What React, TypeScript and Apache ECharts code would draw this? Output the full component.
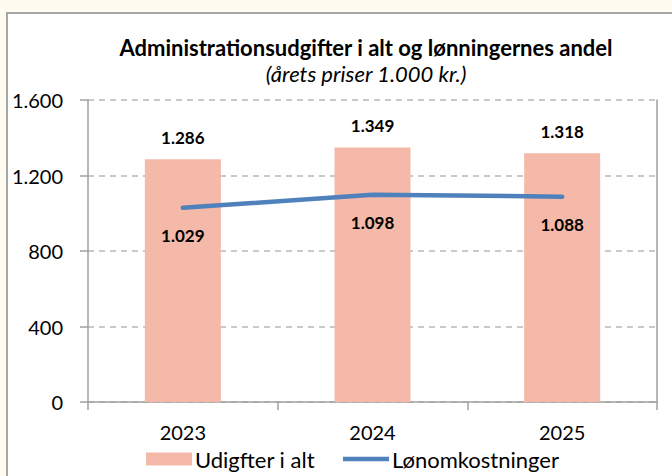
import React, { useEffect, useRef } from "react";
import * as echarts from "echarts";

const categories = ["2023", "2024", "2025"];
const udgifter = [1286, 1349, 1318];
const loen = [1029, 1098, 1088];
const yTicks = [0, 400, 800, 1200, 1600];

const fmt = (v: number) => {
  const s = Math.round(v).toString();
  return s.replace(/\B(?=(\d{3})+(?!\d))/g, ".");
};

const FONT = "Lato, 'Noto Sans', sans-serif";

export default function App() {
  const ref = useRef<HTMLDivElement>(null);
  useEffect(() => {
    if (!ref.current) return;
    const chart = echarts.init(ref.current, null, { renderer: "svg" });
    chart.setOption({
      animation: false,
      backgroundColor: "#ffffff",
      textStyle: { fontFamily: FONT },
      title: [
        {
          text: "Administrationsudgifter i alt og lønningernes andel",
          left: 353,
          top: 17,
          textAlign: "center",
          textStyle: { fontFamily: FONT, fontSize: 22, fontWeight: "bold", color: "#000" },
        },
        {
          text: "(årets priser 1.000 kr.)",
          left: 353,
          top: 43,
          textAlign: "center",
          textStyle: { fontFamily: FONT, fontSize: 22, fontStyle: "italic", fontWeight: "normal", color: "#000" },
        },
      ],
      grid: { left: 80, right: 16, top: 86, bottom: 76, containLabel: false },
      legend: {
        bottom: 3,
        left: 133,
        itemWidth: 46,
        itemHeight: 13,
        itemGap: 28,
        textStyle: { fontFamily: FONT, fontSize: 22, color: "#000", padding: [0, 0, 0, -2] },
        data: [
          { name: "Udigfter i alt", icon: "rect" },
          { name: "Lønomkostninger", icon: "path://M0,0 L46,0 L46,4.5 L0,4.5 Z" },
        ],
      },
      xAxis: {
        type: "category",
        data: categories,
        boundaryGap: true,
        axisLine: { show: true, lineStyle: { color: "#a0a0a0", width: 1.5 } },
        axisTick: { show: true, length: 8, lineStyle: { color: "#a0a0a0", width: 1.5 } },
        axisLabel: { margin: 20, fontFamily: FONT, fontSize: 20, color: "#000" },
      },
      yAxis: [
        {
          type: "value",
          min: 0,
          max: 1600,
          interval: 400,
          axisLine: { show: true, lineStyle: { color: "#a0a0a0", width: 1.5 } },
          axisTick: { show: true, length: 8, lineStyle: { color: "#a0a0a0", width: 1.5 } },
          axisLabel: {
            margin: 25,
            fontFamily: FONT,
            fontSize: 20,
            color: "#000",
            formatter: (v: number) => (yTicks.includes(v) ? fmt(v) : ""),
          },
          splitLine: { show: true, lineStyle: { color: "#b8b8b8", type: [6, 5], width: 1.5 } },
        },
        {
          type: "value",
          min: 0,
          max: 1600,
          interval: 400,
          position: "right",
          axisLine: { show: true, lineStyle: { color: "#a0a0a0", width: 1.5 } },
          axisTick: { show: false },
          axisLabel: { show: false },
          splitLine: { show: false },
        },
      ],
      series: [
        {
          name: "Udigfter i alt",
          type: "bar",
          data: udgifter,
          barWidth: 76,
          itemStyle: { color: "#f4b9a8" },
          label: {
            show: true,
            position: "top",
            distance: 13,
            fontFamily: FONT,
            fontSize: 17,
            fontWeight: "bold",
            color: "#000",
            formatter: (p: any) => fmt(p.value),
          },
        },
        {
          name: "Lønomkostninger",
          type: "line",
          data: loen,
          symbol: "circle",
          symbolSize: 0.01,
          z: 3,
          lineStyle: { color: "#4f81bd", width: 4.5, cap: "round" },
          itemStyle: { color: "#4f81bd" },
          label: {
            show: true,
            position: "bottom",
            distance: 19,
            fontFamily: FONT,
            fontSize: 17,
            fontWeight: "bold",
            color: "#000",
            formatter: (p: any) => fmt(p.value),
          },
          labelLayout: { hideOverlap: false },
        },
      ],
    });
    return () => chart.dispose();
  }, []);

  return (
    <div
      style={{
        position: "absolute",
        left: 0,
        top: 0,
        width: 672,
        height: 476,
        background: "#fffbf0",
        overflow: "hidden",
      }}
    >
      <div
        style={{
          position: "absolute",
          left: 6,
          top: 12,
          width: 672,
          height: 470,
          borderLeft: "2px solid #a6a6a6",
          borderTop: "2px solid #a6a6a6",
          background: "#fff",
        }}
      >
        <div ref={ref} style={{ width: 665, height: 464 }} />
      </div>
    </div>
  );
}
